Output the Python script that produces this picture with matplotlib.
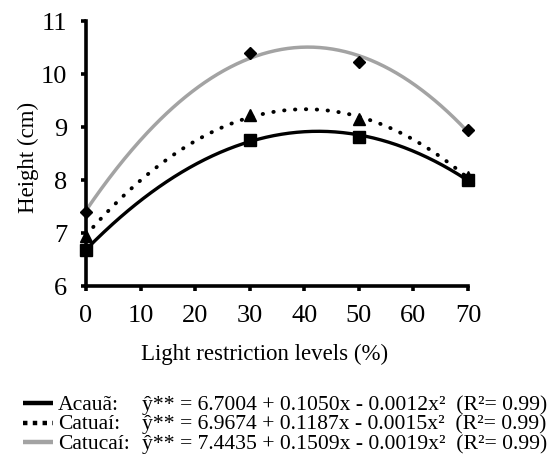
import numpy as np
import matplotlib
matplotlib.use("Agg")
import matplotlib.pyplot as plt
from matplotlib.lines import Line2D

# data
levels = [0, 30, 50, 70]
acaua = [6.68, 8.75, 8.82, 8.00]
catuai = [6.95, 9.22, 9.15, 8.05]
catucai = [7.40, 10.40, 10.22, 8.95]
xticks = [0, 10, 20, 30, 40, 50, 60, 70]
yticks = [6, 7, 8, 9, 10, 11]
names = ["Acauã:", "Catuaí:", "Catucaí:"]
equations = ["ŷ** = 6.7004 + 0.1050x - 0.0012x²  (R²= 0.99)",
             "ŷ** = 6.9674 + 0.1187x - 0.0015x²  (R²= 0.99)",
             "ŷ** = 7.4435 + 0.1509x - 0.0019x²  (R²= 0.99)"]

plt.rcParams['font.family'] = ['Liberation Serif', 'DejaVu Serif']

W, H = 555, 465
fig = plt.figure(figsize=(W / 100, H / 100), dpi=100)
ax = fig.add_axes([86 / W, 1 - 286 / H, (468 - 86) / W, (286 - 21) / H])

series = [
    (acaua, dict(color='black', lw=2.4, ls='-'), dict(marker='s', ms=8, color='black')),
    (catuai, dict(color='black', lw=2.8, ls=(0, (0.1, 2.7)), dash_capstyle='round'),
     dict(marker='^', ms=8, color='black')),
    (catucai, dict(color='#a3a3a3', lw=2.5, ls='-'), dict(marker='D', ms=6.5, color='black')),
]
xs = np.linspace(0, 70, 300)
for vals, lstyle, mstyle in series:
    coef = np.polyfit(levels, vals, 2)
    ax.plot(xs, np.polyval(coef, xs), zorder=2, **lstyle)
    ax.plot(levels, vals, ls='none', zorder=3, clip_on=False, **mstyle)

ax.set_xlim(0, 70)
ax.set_ylim(6, 11)
ax.set_xticks(xticks)
ax.set_yticks(yticks)
for s in ['top', 'right']:
    ax.spines[s].set_visible(False)
for s in ['left', 'bottom']:
    ax.spines[s].set_linewidth(2.6)
    ax.spines[s].set_zorder(5)
ax.tick_params(direction='out', length=3.5, width=2.6, labelsize=19, pad=10)
ax.set_xlabel("Light restriction levels (%)", fontsize=16.5, labelpad=12)
ax.set_ylabel("Height (cm)", fontsize=16.5, labelpad=1)
ax.xaxis.label.set_x((265 - 86) / 382)
ax.yaxis.label.set_y((286 - 157) / 265)

# legend below
handles = [dict(color='black', lw=3.2, ls='-', solid_capstyle='butt'),
           dict(color='black', lw=3.2, ls=(0, (1, 1.2)), dash_capstyle='butt'),
           dict(color='#a3a3a3', lw=3.2, ls='-', solid_capstyle='butt')]
for i in range(3):
    yc = 1 - (405 + 19.5 * i) / H
    fig.add_artist(Line2D([23 / W, 53 / W], [yc + 2 / H, yc + 2 / H], transform=fig.transFigure, **handles[i]))
    fig.text(58 / W, yc, names[i], fontsize=15.6, va='center', ha='left')
    fig.text(142 / W, yc, equations[i], fontsize=15.6, va='center', ha='left')

fig.savefig("out.png", dpi=100)
